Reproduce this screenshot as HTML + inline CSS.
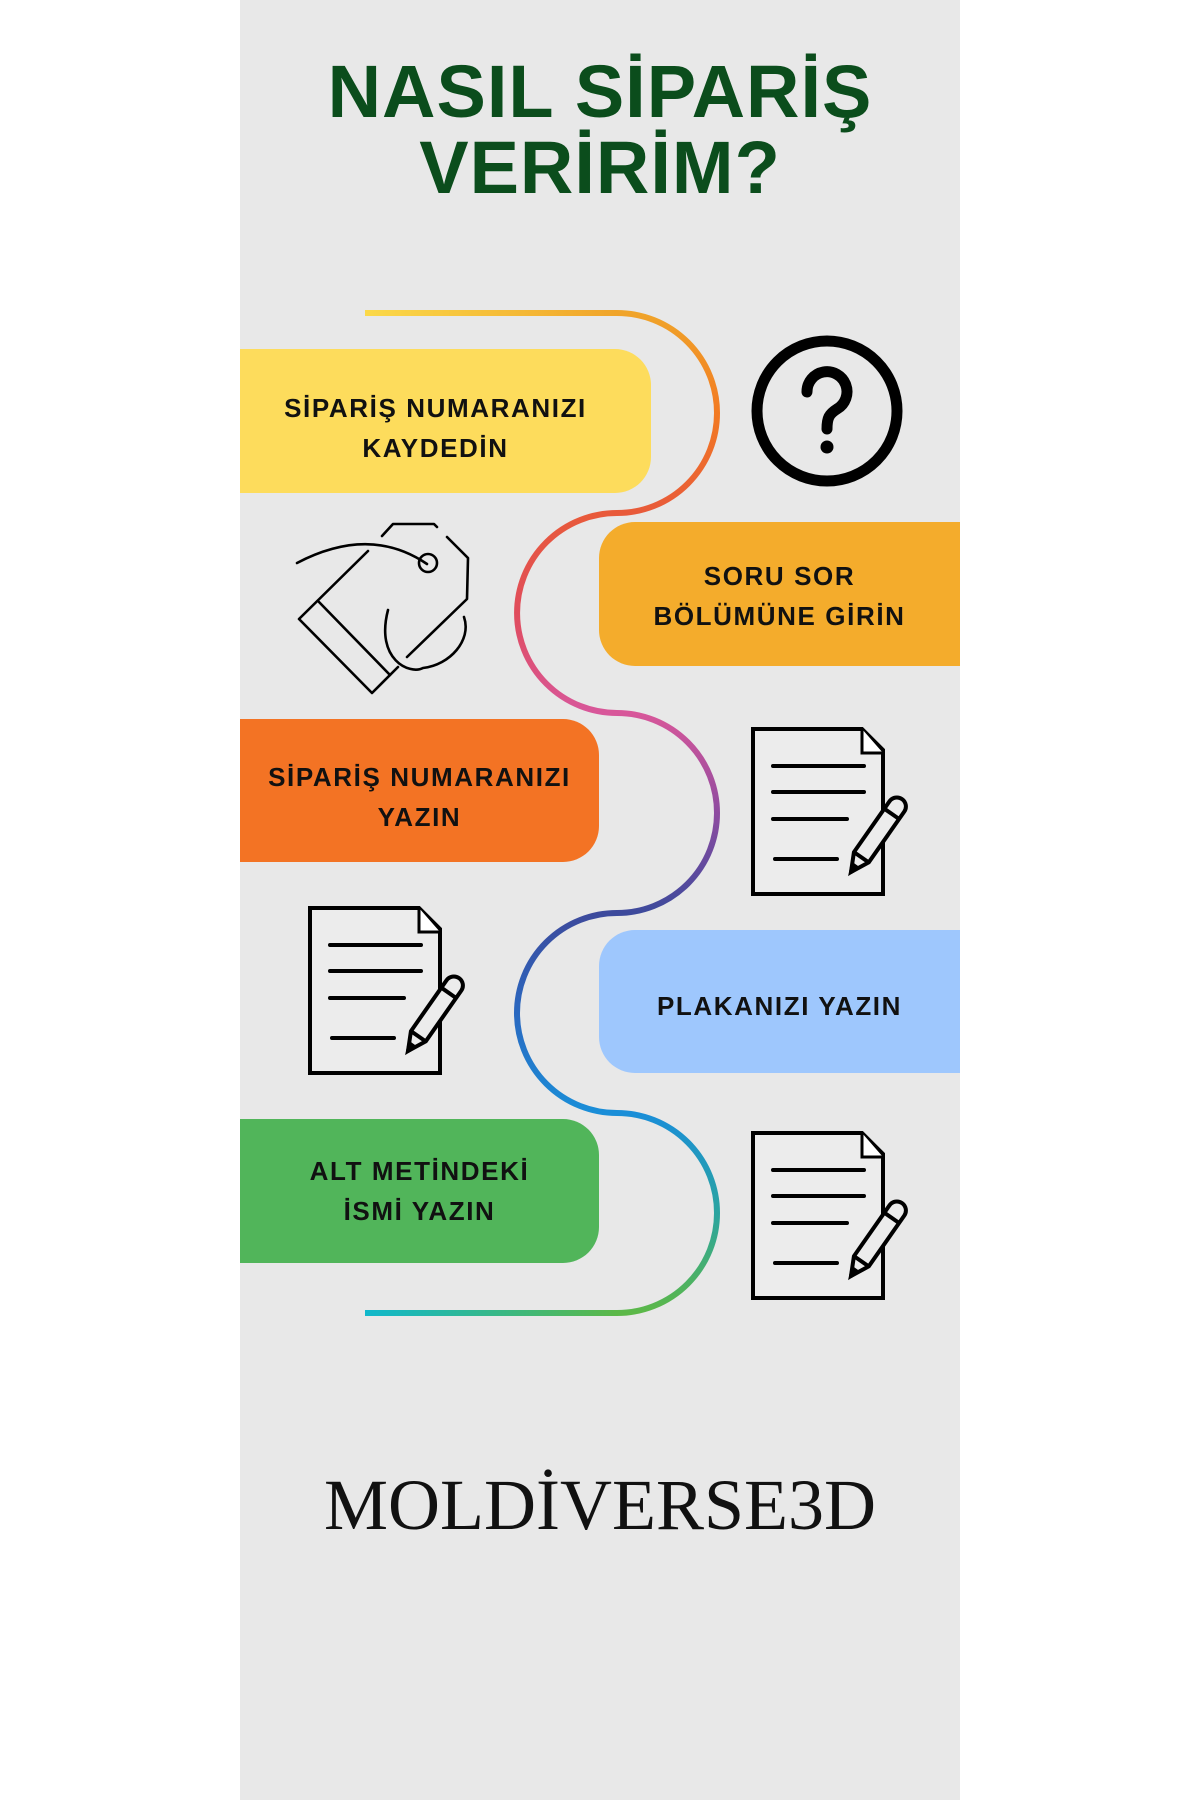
<!DOCTYPE html>
<html><head><meta charset="utf-8"><style>
html,body{margin:0;padding:0;background:#fff;}
body{width:1200px;height:1800px;position:relative;overflow:hidden;font-family:"Liberation Sans",sans-serif;}
.panel{position:absolute;left:240px;top:0;width:720px;height:1800px;background:#e8e8e8;}
.title{position:absolute;left:240px;width:720px;top:54px;text-align:center;color:#0b4d1c;font-weight:bold;font-size:74px;line-height:76px;letter-spacing:1px;}
.box{position:absolute;display:flex;align-items:center;justify-content:center;text-align:center;font-weight:bold;font-size:26px;line-height:40px;color:#111;letter-spacing:1.6px;box-sizing:border-box;}
.brand{position:absolute;left:240px;width:720px;top:1464px;text-align:center;font-family:"Liberation Serif",serif;font-size:72px;color:#111;letter-spacing:0px;}
</style></head><body>
<div class="panel"></div>
<div class="title">NASIL SİPARİŞ<br>VERİRİM?</div>

<svg width="1200" height="1800" style="position:absolute;left:0;top:0">
<defs>
<linearGradient id="g0" gradientUnits="userSpaceOnUse" x1="365" y1="0" x2="617" y2="0"><stop offset="0" stop-color="#fbd949"/><stop offset="1" stop-color="#f0a42a"/></linearGradient>
<linearGradient id="g1" gradientUnits="userSpaceOnUse" x1="0" y1="313" x2="0" y2="513"><stop offset="0" stop-color="#f0a42a"/><stop offset="0.5" stop-color="#f27a22"/><stop offset="1" stop-color="#e85a3a"/></linearGradient>
<linearGradient id="g2" gradientUnits="userSpaceOnUse" x1="0" y1="513" x2="0" y2="713"><stop offset="0" stop-color="#e85a3a"/><stop offset="0.5" stop-color="#e04c5c"/><stop offset="1" stop-color="#d8579a"/></linearGradient>
<linearGradient id="g3" gradientUnits="userSpaceOnUse" x1="0" y1="713" x2="0" y2="913"><stop offset="0" stop-color="#d8579a"/><stop offset="0.5" stop-color="#8e4ba0"/><stop offset="1" stop-color="#3d4a9c"/></linearGradient>
<linearGradient id="g4" gradientUnits="userSpaceOnUse" x1="0" y1="913" x2="0" y2="1113"><stop offset="0" stop-color="#3d4a9c"/><stop offset="0.5" stop-color="#2a68c0"/><stop offset="1" stop-color="#1a8ed8"/></linearGradient>
<linearGradient id="g5" gradientUnits="userSpaceOnUse" x1="0" y1="1113" x2="0" y2="1313"><stop offset="0" stop-color="#1a8ed8"/><stop offset="0.5" stop-color="#2aa4a0"/><stop offset="1" stop-color="#5cb848"/></linearGradient>
<linearGradient id="g6" gradientUnits="userSpaceOnUse" x1="365" y1="0" x2="617" y2="0"><stop offset="0" stop-color="#10b8cc"/><stop offset="1" stop-color="#5cb848"/></linearGradient>
</defs>
<g fill="none" stroke-width="6">
<path d="M365 313 H617" stroke="url(#g0)"/>
<path d="M617 313 A100 100 0 0 1 617 513" stroke="url(#g1)"/>
<path d="M617 513 A100 100 0 0 0 617 713" stroke="url(#g2)"/>
<path d="M617 713 A100 100 0 0 1 617 913" stroke="url(#g3)"/>
<path d="M617 913 A100 100 0 0 0 617 1113" stroke="url(#g4)"/>
<path d="M617 1113 A100 100 0 0 1 617 1313" stroke="url(#g5)"/>
<path d="M617 1313 H365" stroke="url(#g6)"/>
</g>

<circle cx="827" cy="411" r="70" fill="none" stroke="#000" stroke-width="11"/>
<path d="M807 392 a20 20 0 1 1 30 17 c-8 5 -10 9 -10 20" fill="none" stroke="#000" stroke-width="11" stroke-linecap="round"/>
<circle cx="827" cy="447" r="6.5" fill="#000"/>

<g fill="none" stroke="#000" stroke-width="2.6" stroke-linecap="round" stroke-linejoin="round">
<path d="M368 551 L299 619 L372 693 L398 667"/>
<path d="M407 657 L467 599 L468 558 L447 537"/>
<path d="M437 527 L434 524 L393 524 L382 536"/>
<path d="M319 602 L390 675"/>
<path d="M297 563 Q370 525 427 564"/>
<circle cx="428" cy="563" r="9"/>
<path d="M388 610 C375 660 410 675 423 668 C450 665 472 640 464 617"/>
</g>

<g id="doc" transform="translate(740,720)" fill="none" stroke="#000" stroke-width="4">
<path d="M13 9 H122 L143 30 V174 H13 Z" fill="#ececec"/>
<path d="M122 9 V33 H143" fill="#fff" stroke-width="3"/>
<path d="M33 46 H124 M33 72 H124 M33 99 H107 M35 139 H97" stroke-linecap="round"/>
<g transform="translate(111,152) rotate(-55)">
<path d="M0 0 L18 -9 H80 A9 9 0 0 1 80 9 H18 Z" fill="#ececec" stroke-linejoin="round"/>
<path d="M18 -9 V9 M71 -9 V9"/>
<path d="M0 0 L7 -3 V3 Z" fill="#000"/>
</g>
</g>
<use href="#doc" transform="translate(-443,179)"/>
<use href="#doc" transform="translate(0,404)"/>
</svg>

<div class="box" style="left:240px;top:349px;width:411px;height:144px;background:#fddc5c;border-radius:0 36px 36px 0;padding-right:20px;padding-top:14px;">SİPARİŞ NUMARANIZI<br>KAYDEDİN</div>
<div class="box" style="left:599px;top:522px;width:361px;height:144px;background:#f4ac2c;border-radius:36px 0 0 36px;padding-top:4px;">SORU SOR<br>BÖLÜMÜNE GİRİN</div>
<div class="box" style="left:240px;top:719px;width:359px;height:143px;background:#f37324;border-radius:0 36px 36px 0;padding-top:12px;">SİPARİŞ NUMARANIZI<br>YAZIN</div>
<div class="box" style="left:599px;top:930px;width:361px;height:143px;background:#9ec7fd;border-radius:36px 0 0 36px;padding-top:8px;">PLAKANIZI YAZIN</div>
<div class="box" style="left:240px;top:1119px;width:359px;height:144px;background:#51b55a;border-radius:0 36px 36px 0;">ALT METİNDEKİ<br>İSMİ YAZIN</div>

<div class="brand">MOLDİVERSE3D</div>
</body></html>
